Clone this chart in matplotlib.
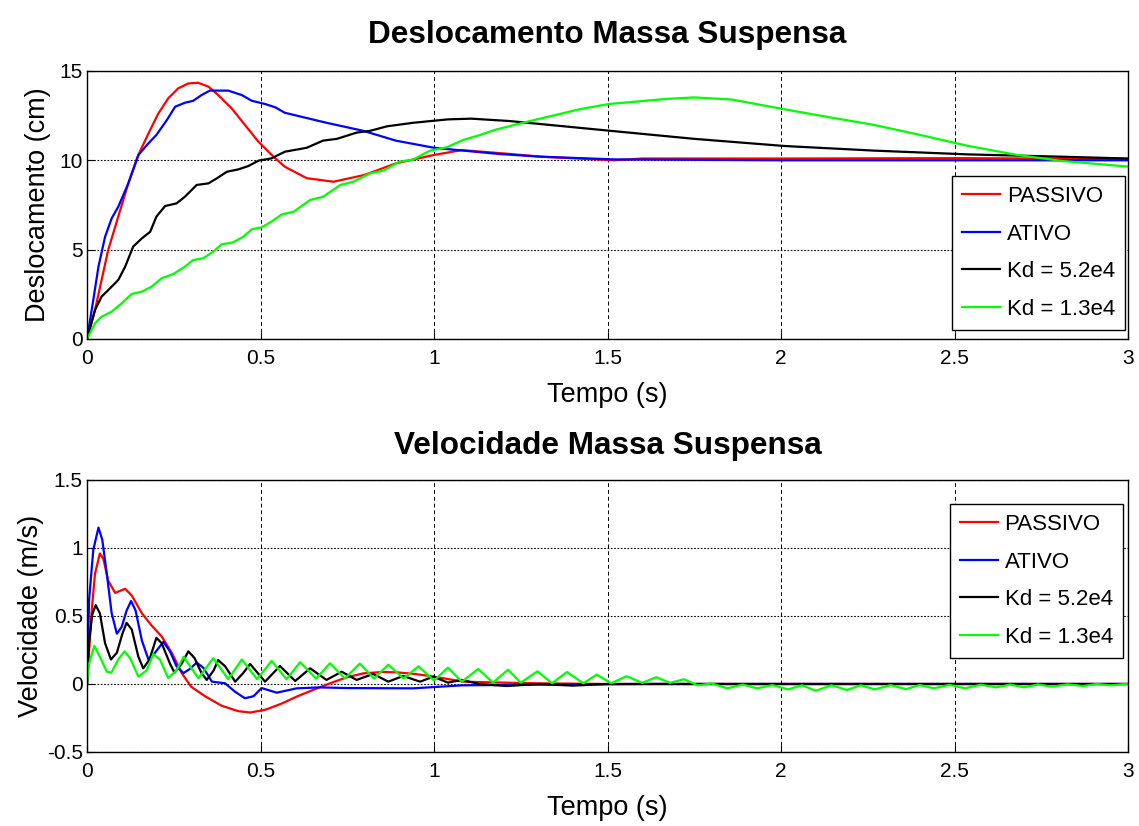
import numpy as np
import matplotlib.pyplot as plt

# Deslocamento (cm)
t_pas_d = [0, 0.023, 0.042, 0.061, 0.09, 0.119, 0.148, 0.177, 0.205, 0.234, 0.263, 0.292, 0.32, 0.35,
           0.378, 0.417, 0.455, 0.494, 0.532, 0.57, 0.633, 0.71, 0.80, 0.89, 1.0, 1.08, 1.19, 1.31,
           1.52, 1.6, 2.0, 2.5, 3.0]
d_pas = [0, 1.62, 3.3, 4.98, 6.85, 8.71, 10.3, 11.5, 12.6, 13.47, 14.03, 14.3, 14.34, 14.12,
         13.65, 12.9, 11.98, 11.04, 10.3, 9.64, 9.0, 8.8, 9.18, 9.83, 10.3, 10.57, 10.4, 10.2,
         10.0, 10.1, 10.1, 10.12, 10.08]

t_atv_d = [0, 0.0135, 0.033, 0.052, 0.071, 0.09, 0.119, 0.148, 0.177, 0.20, 0.23, 0.254, 0.282, 0.306,
           0.33, 0.354, 0.407, 0.446, 0.475, 0.513, 0.542, 0.57, 0.69, 0.796, 0.89, 1.0, 1.08, 1.19,
           1.31, 1.52, 2.0, 3.0]
d_atv = [0, 1.62, 4.05, 5.72, 6.75, 7.4, 8.71, 10.3, 10.95, 11.42, 12.25, 13.0, 13.22, 13.33,
         13.65, 13.9, 13.9, 13.65, 13.33, 13.15, 12.97, 12.66, 12.1, 11.65, 11.1, 10.7, 10.55, 10.35,
         10.2, 10.05, 10.0, 10.0]

t_kd52_d = [0, 0.023, 0.042, 0.066, 0.09, 0.11, 0.133, 0.158, 0.182, 0.20, 0.225, 0.258, 0.282, 0.316,
            0.35, 0.374, 0.403, 0.436, 0.465, 0.494, 0.532, 0.57, 0.633, 0.68, 0.72, 0.777, 0.816,
            0.864, 0.94, 1.04, 1.107, 1.216, 1.503, 1.75, 2.01, 2.27, 2.54, 2.81, 3.0]
d_kd52 = [0, 1.62, 2.37, 2.83, 3.3, 4.05, 5.17, 5.63, 6.0, 6.85, 7.44, 7.59, 7.96, 8.62,
          8.71, 8.99, 9.36, 9.49, 9.68, 9.98, 10.11, 10.48, 10.7, 11.1, 11.2, 11.55, 11.65,
          11.9, 12.1, 12.29, 12.33, 12.2, 11.66, 11.2, 10.8, 10.54, 10.33, 10.2, 10.1]

t_kd13_d = [0, 0.023, 0.042, 0.071, 0.10, 0.129, 0.158, 0.186, 0.215, 0.249, 0.282, 0.306, 0.335, 0.364,
            0.388, 0.42, 0.45, 0.475, 0.503, 0.532, 0.561, 0.595, 0.643, 0.68, 0.73, 0.767, 0.816, 0.854,
            0.90, 0.94, 0.988, 1.037, 1.084, 1.13, 1.175, 1.256, 1.42, 1.503, 1.667, 1.749, 1.858, 2.008,
            2.13, 2.268, 2.40, 2.54, 2.68, 2.81, 3.0]
d_kd13 = [0, 0.88, 1.25, 1.53, 2.0, 2.52, 2.65, 2.93, 3.4, 3.64, 4.05, 4.42, 4.52, 4.89,
          5.3, 5.4, 5.72, 6.14, 6.25, 6.57, 6.97, 7.12, 7.78, 7.96, 8.62, 8.8, 9.27, 9.42,
          9.92, 10.04, 10.54, 10.73, 11.14, 11.4, 11.7, 12.1, 12.86, 13.15, 13.43, 13.52, 13.4, 12.86,
          12.44, 11.98, 11.42, 10.8, 10.3, 9.96, 9.65]

# Velocidade (m/s)
t_pas_v = [0, 0.0135, 0.023, 0.037, 0.047, 0.061, 0.081, 0.11, 0.129, 0.158, 0.186, 0.215, 0.244, 0.273,
           0.30, 0.34, 0.388, 0.436, 0.47, 0.513, 0.56, 0.604, 0.65, 0.70, 0.75, 0.796, 0.85, 0.89,
           0.94, 0.988, 1.084, 1.2, 1.3, 1.5, 3.0]
v_pas = [0, 0.54, 0.81, 0.96, 0.92, 0.76, 0.67, 0.70, 0.65, 0.52, 0.43, 0.35, 0.23, 0.08,
         -0.02, -0.09, -0.16, -0.20, -0.21, -0.19, -0.145, -0.093, -0.045, 0.005, 0.05, 0.078, 0.088, 0.086,
         0.075, 0.059, 0.017, 0.01, 0.005, 0.0, 0.0]

t_atv_v = [0, 0.006, 0.018, 0.033, 0.044, 0.057, 0.071, 0.086, 0.10, 0.114, 0.127, 0.14, 0.158, 0.177,
           0.196, 0.22, 0.239, 0.258, 0.278, 0.296, 0.316, 0.335, 0.36, 0.398, 0.426, 0.455, 0.48,
           0.503, 0.547, 0.604, 0.671, 0.75, 0.94, 1.08, 1.3, 1.6, 3.0]
v_atv = [0, 0.62, 0.985, 1.15, 1.06, 0.81, 0.52, 0.37, 0.42, 0.54, 0.61, 0.54, 0.32, 0.18,
         0.23, 0.31, 0.24, 0.13, 0.08, 0.11, 0.157, 0.12, 0.017, 0.005, -0.056, -0.105, -0.09,
         -0.03, -0.064, -0.032, -0.025, -0.03, -0.032, -0.01, -0.005, 0.0, 0.0]

t_kd52_v = [0, 0.006, 0.015, 0.025, 0.037, 0.052, 0.069, 0.086, 0.102, 0.114, 0.129, 0.148, 0.162, 0.18,
            0.20, 0.215, 0.239, 0.252, 0.273, 0.292, 0.31, 0.33, 0.345, 0.365, 0.378, 0.398, 0.427, 0.45,
            0.47, 0.513, 0.556, 0.60, 0.643, 0.69, 0.734, 0.777, 0.825, 0.868, 0.911, 0.96, 0.998, 1.04,
            1.08, 1.13, 1.21, 1.3, 1.4, 1.5, 1.7, 3.0]
v_kd52 = [0, 0.31, 0.51, 0.58, 0.52, 0.30, 0.18, 0.23, 0.37, 0.45, 0.40, 0.20, 0.115, 0.18,
          0.34, 0.30, 0.15, 0.083, 0.15, 0.24, 0.19, 0.08, 0.03, 0.1, 0.176, 0.13, 0.017, 0.08,
          0.147, 0.017, 0.132, 0.022, 0.115, 0.03, 0.09, 0.03, 0.074, 0.017, 0.059, 0.017, 0.054, 0.01,
          0.03, 0.0, -0.015, 0.0, -0.012, 0.0, 0.0, 0.0]

t_kd13_v = [0, 0.006, 0.021, 0.037, 0.057, 0.07, 0.09, 0.108, 0.124, 0.148, 0.172, 0.191, 0.21, 0.234,
            0.258, 0.278, 0.321, 0.364, 0.407, 0.446, 0.49, 0.532, 0.575, 0.614, 0.66, 0.70, 0.743, 0.786,
            0.827, 0.868, 0.912, 0.955, 1.0, 1.04, 1.08, 1.127, 1.17, 1.213, 1.25, 1.298, 1.34, 1.383,
            1.43, 1.469, 1.51, 1.555, 1.6, 1.64, 1.68, 1.72, 1.76, 1.80, 1.845, 1.89, 1.93, 1.975,
            2.02, 2.06, 2.10, 2.145, 2.19, 2.23, 2.27, 2.315, 2.36, 2.40, 2.44, 2.485, 2.53, 2.575,
            2.62, 2.66, 2.70, 2.74, 2.78, 2.825, 2.87, 2.91, 2.95, 3.0]
v_kd13 = [0, 0.15, 0.28, 0.20, 0.09, 0.083, 0.18, 0.24, 0.19, 0.054, 0.10, 0.22, 0.18, 0.044,
          0.10, 0.20, 0.042, 0.19, 0.035, 0.18, 0.035, 0.17, 0.035, 0.16, 0.04, 0.152, 0.04, 0.15,
          0.04, 0.142, 0.04, 0.13, 0.025, 0.12, 0.017, 0.11, 0.01, 0.105, 0.01, 0.093, 0.005, 0.088,
          0.005, 0.069, 0.005, 0.057, 0.008, 0.05, 0.008, 0.035, -0.01, 0.004, -0.032, -0.004, -0.032, -0.008,
          -0.04, -0.009, -0.05, -0.009, -0.044, -0.009, -0.04, -0.008, -0.038, -0.007, -0.032, -0.006, -0.032, -0.005,
          -0.025, -0.004, -0.025, -0.003, -0.02, -0.002, -0.015, 0.0, -0.01, 0.002]

rotulos = ['PASSIVO', 'ATIVO', 'Kd = 5.2e4', 'Kd = 1.3e4']
cores = ['#ff0000', '#0000ff', '#000000', '#00ff00']

plt.rcParams['font.family'] = ['Liberation Sans', 'DejaVu Sans']

fig = plt.figure(figsize=(11.39, 8.26), dpi=100)
ax1 = fig.add_axes([0.0764, 0.5896, 0.9140, 0.3245])
ax2 = fig.add_axes([0.0764, 0.0896, 0.9140, 0.3293])

dados_d = [(t_pas_d, d_pas), (t_atv_d, d_atv), (t_kd52_d, d_kd52), (t_kd13_d, d_kd13)]
dados_v = [(t_pas_v, v_pas), (t_atv_v, v_atv), (t_kd52_v, v_kd52), (t_kd13_v, v_kd13)]

for ax, dados in [(ax1, dados_d), (ax2, dados_v)]:
    for (t, y), cor, rot in zip(dados, cores, rotulos):
        ax.plot(t, y, color=cor, lw=1.6, label=rot, solid_joinstyle='round')
    ax.set_xlim(0, 3)
    ax.set_xticks(np.arange(0, 3.01, 0.5))
    ax.set_xticklabels(['0', '0.5', '1', '1.5', '2', '2.5', '3'])
    ax.xaxis.grid(True, color='black', linestyle=(0, (4, 3)), lw=0.7)
    ax.yaxis.grid(True, color='black', linestyle=(0, (1.5, 1.5)), lw=0.8)
    ax.tick_params(direction='in', labelsize=15, length=5)
    ax.tick_params(axis='x', pad=7)
    ax.tick_params(axis='y', pad=3)
    for s in ax.spines.values():
        s.set_linewidth(1.0)
    ax.set_xlabel('Tempo (s)', fontsize=19.5, labelpad=10)

ax1.legend(loc='lower right', bbox_to_anchor=(0.997, 0.034), borderaxespad=0,
           fontsize=16, handlelength=1.7, frameon=True, fancybox=False,
           edgecolor='black', framealpha=1, borderpad=0.45, labelspacing=0.75,
           handletextpad=0.3)
ax2.legend(loc='upper right', bbox_to_anchor=(0.995, 0.912), borderaxespad=0,
           fontsize=16, handlelength=1.7, frameon=True, fancybox=False,
           edgecolor='black', framealpha=1, borderpad=0.45, labelspacing=0.75,
           handletextpad=0.3)

ax1.set_ylim(0, 15)
ax1.set_yticks([0, 5, 10, 15])
ax1.set_ylabel('Deslocamento (cm)', fontsize=19.5, labelpad=6)
ax1.set_title('Deslocamento Massa Suspensa', fontsize=22.7, fontweight='bold', pad=20)

ax2.set_ylim(-0.5, 1.5)
ax2.set_yticks([-0.5, 0, 0.5, 1, 1.5])
ax2.set_yticklabels(['-0.5', '0', '0.5', '1', '1.5'])
ax2.set_ylabel('Velocidade (m/s)', fontsize=19.5, labelpad=2)
ax2.set_title('Velocidade Massa Suspensa', fontsize=22.7, fontweight='bold', pad=19)

fig.savefig('out.png', dpi=100)
